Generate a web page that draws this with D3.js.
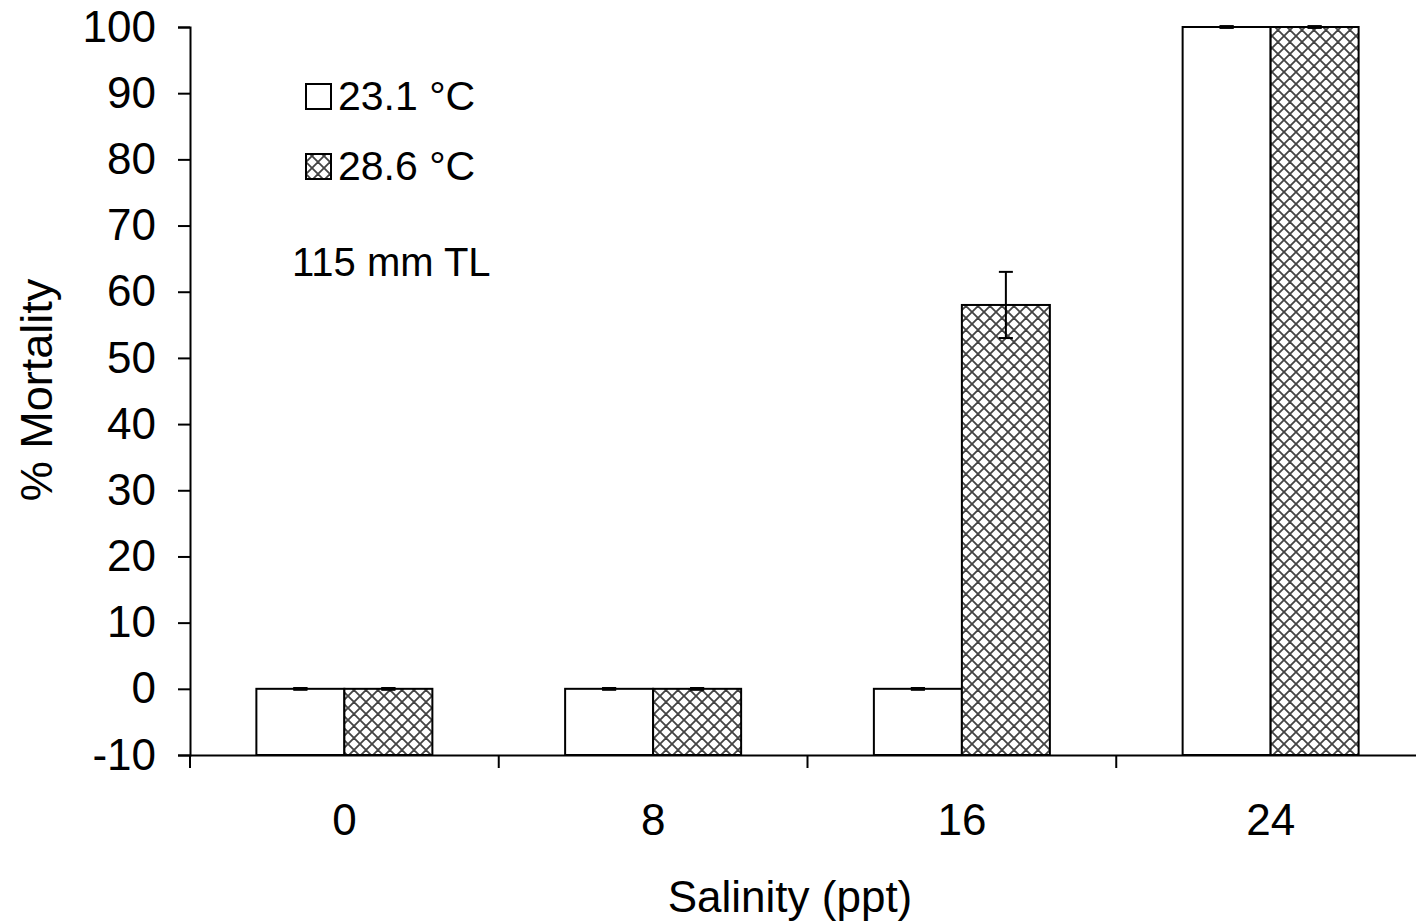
<!DOCTYPE html>
<html><head><meta charset="utf-8">
<script src="https://cdn.jsdelivr.net/npm/d3@7"></script>
<style>body{margin:0;background:#fff}svg{display:block}text{font-family:"Liberation Sans",Arial,sans-serif;fill:#000}</style>
</head><body>
<svg id="c" width="1416" height="924"></svg>
<script>
const categories = ["0","8","16","24"];
const seriesNames = ["23.1 °C","28.6 °C"];
const values231 = [0,0,0,100];
const errors231 = [0,0,0,0];
const values286 = [0,0,58,100];
const errors286 = [0,0,5,0];
const yTicks = [-10,0,10,20,30,40,50,60,70,80,90,100];

const svg = d3.select("#c");
const defs = svg.append("defs");
const pat = defs.append("pattern").attr("id","hatch").attr("patternUnits","userSpaceOnUse")
  .attr("width",12).attr("height",12);
pat.append("rect").attr("width",12).attr("height",12).attr("fill","#fff");
pat.append("path").attr("d","M0,0L12,12M12,0L0,12M-6,6L6,-6M6,18L18,6M-6,6L6,18M6,-6L18,6")
  .attr("stroke","#444").attr("stroke-width",1.8).attr("fill","none");

const y = d3.scaleLinear().domain([-10,100]).range([755,27]);
const x = d3.scaleBand().domain(categories).range([190,1425]).padding(0);
const barW = 88;

const series = [
  {name:seriesNames[0], v:values231, e:errors231, fill:"#fff", off:-1},
  {name:seriesNames[1], v:values286, e:errors286, fill:"url(#hatch)", off:0}
];

// bars
series.forEach(s=>{
  svg.append("g").selectAll("rect").data(categories).join("rect")
    .attr("x",(c)=>x(c)+x.bandwidth()/2 + s.off*barW)
    .attr("y",(c,i)=>y(s.v[i]))
    .attr("width",barW)
    .attr("height",(c,i)=>y(-10)-y(s.v[i]))
    .attr("fill",s.fill).attr("stroke","#000").attr("stroke-width",2);
});
// error bars
series.forEach(s=>{
  const g = svg.append("g");
  categories.forEach((c,i)=>{
    const cx = x(c)+x.bandwidth()/2 + s.off*barW + barW/2;
    const hi = y(s.v[i]+s.e[i]), lo = y(s.v[i]-s.e[i]);
    g.append("line").attr("x1",cx).attr("x2",cx).attr("y1",hi).attr("y2",lo).attr("stroke","#000").attr("stroke-width",2);
    [hi,lo].forEach(yy=>g.append("line").attr("x1",cx-7).attr("x2",cx+7).attr("y1",yy).attr("y2",yy)
      .attr("stroke","#000").attr("stroke-width",s.e[i]===0?3.5:2));
  });
});

// y axis
const ya = svg.append("g").attr("transform","translate(190,0)")
  .call(d3.axisLeft(y).tickValues(yTicks).tickSize(12).tickPadding(22).tickFormat(d=>String(d)));
ya.select(".domain").attr("stroke","#000").attr("stroke-width",2);
ya.selectAll(".tick line").attr("stroke","#000").attr("stroke-width",2);
ya.selectAll(".tick text").attr("font-size",44).attr("font-family","Liberation Sans, Arial, sans-serif");

// x axis
const xa = svg.append("g").attr("transform","translate(0,755)")
  .call(d3.axisBottom(x).tickSize(0).tickPadding(49));
xa.select(".domain").attr("stroke","#000").attr("stroke-width",2);
xa.selectAll(".tick text").attr("font-size",44).attr("font-family","Liberation Sans, Arial, sans-serif");
svg.append("g").selectAll("line").data(categories.concat(["end"])).join("line")
  .attr("x1",(c,i)=>190+i*x.bandwidth()).attr("x2",(c,i)=>190+i*x.bandwidth())
  .attr("y1",755).attr("y2",768).attr("stroke","#000").attr("stroke-width",2);

// axis titles
svg.append("text").attr("x",790).attr("y",912).attr("text-anchor","middle").attr("font-size",44).text("Salinity (ppt)");
svg.append("text").attr("transform","translate(52,390) rotate(-90)").attr("text-anchor","middle").attr("font-size",45).text("% Mortality");

// legend
const leg = svg.append("g");
series.forEach((s,i)=>{
  const ly = 84 + i*70;
  leg.append("rect").attr("x",306).attr("y",ly).attr("width",25).attr("height",25)
    .attr("fill",s.fill).attr("stroke","#000").attr("stroke-width",2);
  leg.append("text").attr("x",338).attr("y",ly+26).attr("font-size",41).text(s.name);
});
svg.append("text").attr("x",292).attr("y",276).attr("font-size",40).text("115 mm TL");
</script>
</body></html>
